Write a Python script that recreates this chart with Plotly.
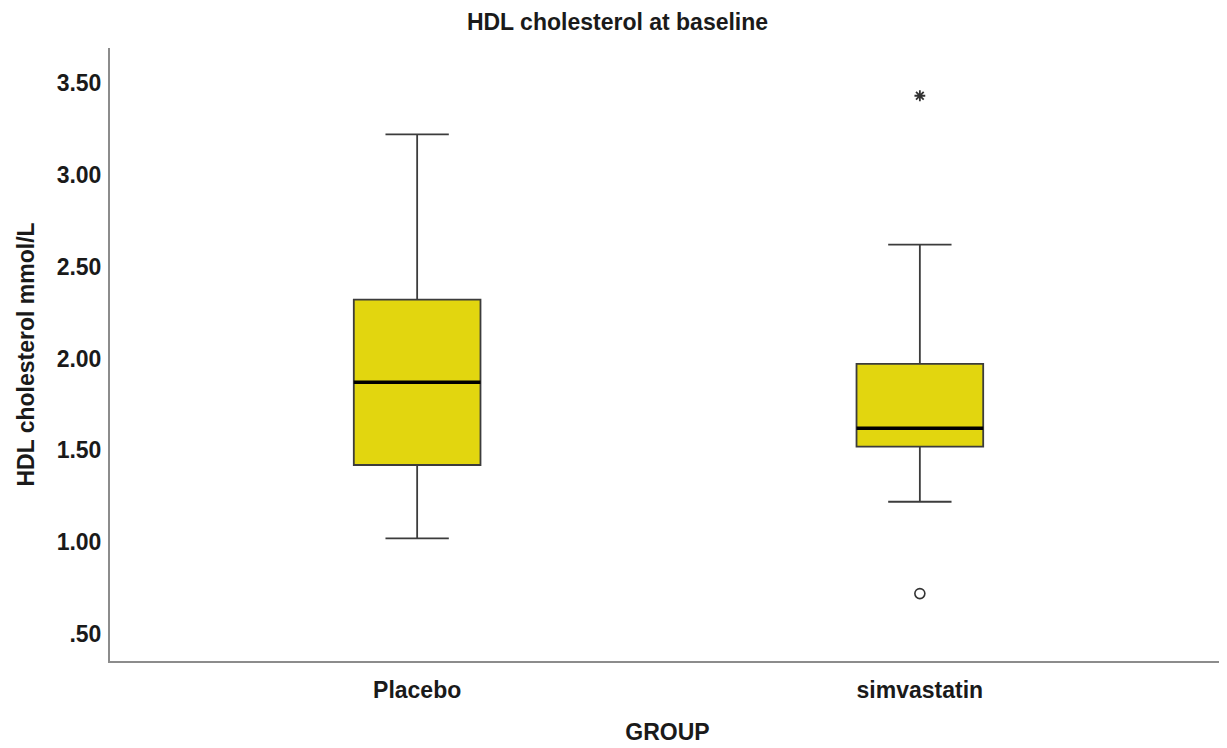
import plotly.graph_objects as go

groups = ["Placebo", "simvastatin"]
lower_whisker = [1.02, 1.22]
q1 = [1.42, 1.52]
median = [1.87, 1.62]
q3 = [2.32, 1.97]
upper_whisker = [3.22, 2.62]
# outliers
circle_group = ["simvastatin"]
circle_value = [0.72]
extreme_group = ["simvastatin"]
extreme_value = [3.43]

BOX_W = 0.252
FONT = "Liberation Sans, Arial, sans-serif"
TXT = dict(family=FONT, size=23, color="#1a1a1a", weight="bold")

W, H = 1219, 740

fig = go.Figure()
fig.add_trace(go.Box(
    x=groups, q1=q1, median=median, q3=q3,
    lowerfence=lower_whisker, upperfence=upper_whisker,
    width=BOX_W, whiskerwidth=0.5,
    fillcolor="#E2D60F", line=dict(color="#3c3c3c", width=1.8),
    boxpoints=False, showlegend=False, hoverinfo="skip",
))
fig.add_trace(go.Scatter(
    x=circle_group, y=circle_value, mode="markers",
    marker=dict(symbol="circle-open", size=10, color="#333333", line=dict(width=1.6)),
    showlegend=False,
))
fig.add_trace(go.Scatter(
    x=extreme_group, y=extreme_value, mode="markers",
    marker=dict(symbol="asterisk-open", size=9, color="#333333", line=dict(width=1.8, color="#333333")),
    showlegend=False,
))
for i, m in enumerate(median):
    fig.add_shape(type="line", xref="x", yref="y",
                  x0=i - BOX_W / 2, x1=i + BOX_W / 2, y0=m, y1=m,
                  line=dict(color="black", width=3.5))

fig.update_layout(
    width=W, height=H,
    margin=dict(l=102, r=2, t=40, b=87, autoexpand=False),
    paper_bgcolor="white", plot_bgcolor="white",
    font=TXT,
    title=dict(text="HDL cholesterol at baseline", x=0.5, xanchor="center",
               y=1 - 14 / H, yanchor="middle", yref="container",
               font=TXT),
)
fig.update_xaxes(
    type="category", categoryorder="array", categoryarray=groups,
    range=[-0.611, 1.607], automargin=False,
    showline=True, linecolor="#8c8c8c", linewidth=2,
    showgrid=False, zeroline=False, ticks="",
    ticklabelstandoff=7, tickfont=TXT,
    title=dict(text="GROUP", standoff=22, font=TXT),
)
fig.update_yaxes(
    range=[0.353, 3.69], automargin=False,
    tickvals=[0.5, 1.0, 1.5, 2.0, 2.5, 3.0, 3.5],
    ticktext=[".50", "1.00", "1.50", "2.00", "2.50", "3.00", "3.50"],
    showline=True, linecolor="#8c8c8c", linewidth=2,
    showgrid=False, zeroline=False, ticks="",
    ticklabelstandoff=2, tickfont=TXT,
    title=dict(text="HDL cholesterol mmol/L", standoff=16, font=TXT),
)

fig.write_html("out.html")
